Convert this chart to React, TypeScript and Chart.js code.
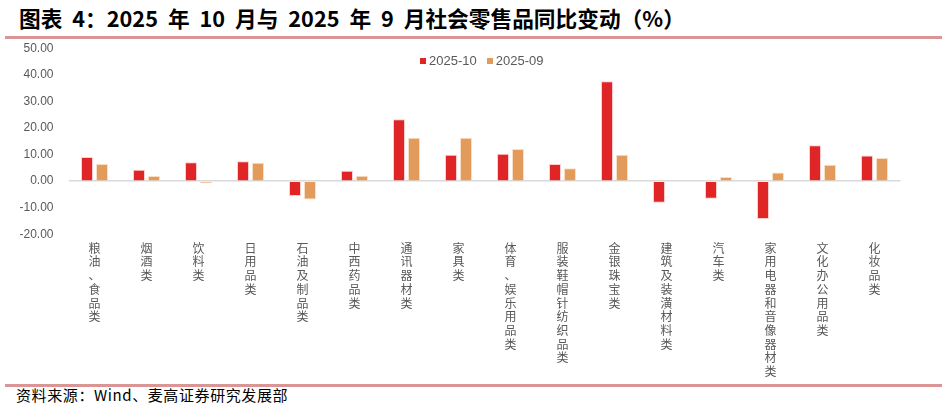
import React, { useEffect, useRef } from "react";
import { Chart, registerables } from "chart.js";

Chart.register(...registerables);

const categories = [
  "粮油、食品类",
  "烟酒类",
  "饮料类",
  "日用品类",
  "石油及制品类",
  "中西药品类",
  "通讯器材类",
  "家具类",
  "体育、娱乐用品类",
  "服装鞋帽针纺织品类",
  "金银珠宝类",
  "建筑及装潢材料类",
  "汽车类",
  "家用电器和音像器材类",
  "文化办公用品类",
  "化妆品类",
];

const seriesNames = ["2025-10", "2025-09"];

const oct2025 = [9.1, 4.3, 7.1, 7.5, -5.6, 3.9, 23.3, 9.9, 10.3, 6.5, 37.6, -8.1, -6.6, -14.2, 13.5, 9.7];
const sep2025 = [6.5, 1.9, -0.8, 6.9, -6.9, 2.0, 16.3, 16.3, 12.1, 4.9, 9.9, 0, 1.6, 3.3, 6.2, 8.7];

const yMin = -20;
const yMax = 50;
const yStep = 10;

const titleText = "图表 4：2025 年 10 月与 2025 年 9 月社会零售品同比变动（%）";
const sourceText = "资料来源：Wind、麦高证券研究发展部";

const RED = "#E02527";
const ORANGE = "#E39B5B";
const GRAY = "#595959";
const seriesColors = [RED, ORANGE];

export default function App() {
  const canvasRef = useRef<HTMLCanvasElement | null>(null);

  useEffect(() => {
    const canvas = canvasRef.current;
    if (!canvas) return;
    const chart = new Chart(canvas, {
      type: "bar",
      data: {
        labels: categories.map((c) => Array.from(c)),
        datasets: [
          {
            label: seriesNames[0],
            data: oct2025,
            backgroundColor: RED,
            borderColor: "rgba(255,200,200,0.9)",
            borderWidth: 1,
            categoryPercentage: 0.577,
            barPercentage: 0.8,
          },
          {
            label: seriesNames[1],
            data: sep2025,
            backgroundColor: ORANGE,
            borderColor: "rgba(250,220,190,0.9)",
            borderWidth: 1,
            categoryPercentage: 0.577,
            barPercentage: 0.8,
          },
        ],
      },
      options: {
        responsive: false,
        animation: false,
        layout: { padding: { top: 8.3, left: 8, right: 46.5, bottom: 0 } },
        plugins: {
          legend: { display: false },
          tooltip: { enabled: false },
        },
        scales: {
          x: {
            grid: { display: false, drawTicks: false },
            border: { display: false },
            ticks: {
              color: GRAY,
              autoSkip: false,
              maxRotation: 0,
              minRotation: 0,
              padding: 7,
              font: { family: "'Noto Sans CJK SC', sans-serif", size: 12, lineHeight: 13.7 / 12 },
            },
            afterFit: (scale: any) => {
              scale.height = 148.7;
            },
          },
          y: {
            min: yMin,
            max: yMax,
            grid: {
              drawTicks: true,
              tickLength: 15,
              tickColor: "rgba(0,0,0,0)",
              color: (ctx: any) => (ctx.tick && ctx.tick.value === 0 ? "#D9D9D9" : "rgba(0,0,0,0)"),
              lineWidth: 1.5,
            },
            border: { display: false },
            ticks: {
              stepSize: yStep,
              color: GRAY,
              padding: 0,
              font: { family: "'Liberation Sans', Arial, sans-serif", size: 12 },
              callback: (v: any) => Number(v).toFixed(2),
            },
            afterFit: (scale: any) => {
              scale.width = 60.5;
            },
          },
        },
      },
    });
    return () => chart.destroy();
  }, []);

  return (
    <div style={{ position: "absolute", left: 0, top: 0, width: 947, height: 415, background: "#fff", overflow: "hidden" }}>
      <div
        style={{
          position: "absolute",
          left: 19,
          top: 3,
          fontFamily: "'Noto Sans CJK SC', sans-serif",
          fontWeight: 700,
          fontSize: 21.7,
          lineHeight: "30px",
          wordSpacing: 5,
          color: "#000",
          whiteSpace: "pre",
        }}
      >
        {titleText}
      </div>
      <div style={{ position: "absolute", left: 5, top: 36, width: 937, height: 3, background: "#D99694" }} />
      <canvas
        ref={canvasRef}
        width={947}
        height={343}
        style={{ position: "absolute", left: 0, top: 40, width: 947, height: 343, display: "block" }}
      />
      <div
        style={{
          position: "absolute",
          left: 420,
          top: 52,
          display: "flex",
          alignItems: "center",
          fontFamily: "'Liberation Sans', Arial, sans-serif",
          fontSize: 13,
          lineHeight: "17px",
          color: GRAY,
          whiteSpace: "nowrap",
        }}
      >
        {seriesNames.map((name, i) => (
          <div key={name} style={{ display: "flex", alignItems: "center", marginRight: i === 0 ? 10 : 0 }}>
            <span style={{ display: "inline-block", width: 6, height: 6, background: seriesColors[i], marginRight: 3 }} />
            <span>{name}</span>
          </div>
        ))}
      </div>
      <div style={{ position: "absolute", left: 5, top: 384, width: 937, height: 3, background: "#D99694" }} />
      <div
        style={{
          position: "absolute",
          left: 16,
          top: 385,
          fontFamily: "'Noto Sans CJK SC', sans-serif",
          fontSize: 15,
          lineHeight: "20px",
          letterSpacing: 0.6,
          color: "#000",
          whiteSpace: "nowrap",
        }}
      >
        {sourceText}
      </div>
    </div>
  );
}
